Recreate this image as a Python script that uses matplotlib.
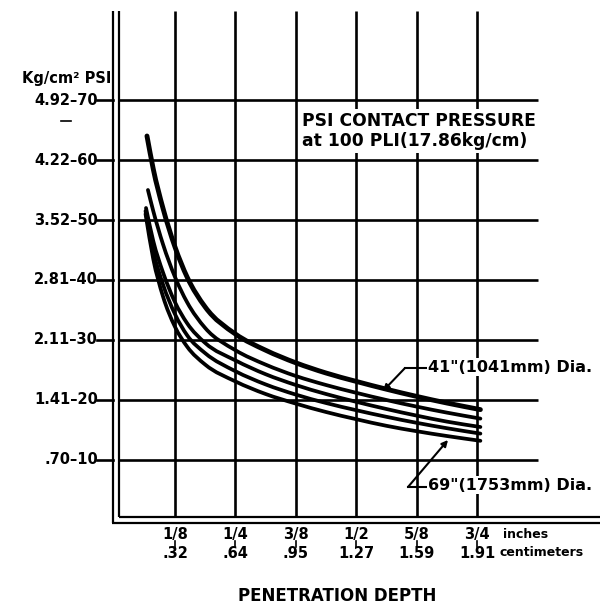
import matplotlib
matplotlib.use("Agg")
import matplotlib.pyplot as plt
from matplotlib.path import Path
from matplotlib.patches import PathPatch

plt.rcParams['font.family'] = ['DejaVu Sans']

# ---------------- data ----------------
depth_ticks_in = [0.125, 0.25, 0.375, 0.5, 0.625, 0.75]
inch_labels = ["1/8", "1/4", "3/8", "1/2", "5/8", "3/4"]
cm_labels = [".32", ".64", ".95", "1.27", "1.59", "1.91"]
psi_ticks = [10, 20, 30, 40, 50, 60, 70]
kg_labels = [".70", "1.41", "2.11", "2.81", "3.52", "4.22", "4.92"]

depth_in = [0.08, 0.1, 0.125, 0.15, 0.1875, 0.25, 0.3125, 0.375, 0.4375,
            0.5, 0.5625, 0.625, 0.6875, 0.757]
start_in = [0.067, 0.069, 0.065, 0.064, 0.064]
start_psi = [64, 55, 52, 51.5, 51]
psi_41 = [58.5, 52.0, 45.5, 40.5, 35.5, 31.0, 28.3, 26.2, 24.5, 23.1, 21.8, 20.6, 19.5, 18.4]
psi_b = [51.5, 46.0, 40.5, 36.3, 32.0, 28.3, 25.9, 24.0, 22.5, 21.2, 20.0, 18.9, 17.9, 16.9]
psi_c = [46.5, 41.3, 36.3, 32.8, 29.5, 26.6, 24.3, 22.5, 21.0, 19.7, 18.5, 17.4, 16.4, 15.5]
psi_d = [44.8, 39.3, 34.3, 30.8, 27.8, 24.8, 22.6, 20.9, 19.5, 18.3, 17.2, 16.2, 15.3, 14.4]
psi_69 = [43.5, 37.3, 32.2, 28.9, 25.9, 23.1, 21.0, 19.4, 18.0, 16.8, 15.7, 14.8, 14.0, 13.2]
curves = [psi_41, psi_b, psi_c, psi_d, psi_69]

# ---------------- layout ----------------
W, H = 604, 605
X0, PXIN = 114.6, 483.2   # pixel of 0 in, pixels per inch
Y0, PXPSI = 520.0, 6.0    # pixel row of 0 psi, pixels per psi


def dx(px):
    return (px - X0) / PXIN


def dy(py):
    return (Y0 - py) / PXPSI


def smooth_path(xs, ys):
    """Cubic Hermite (in x) bezier path through the read points."""
    n = len(xs)
    h = [xs[i + 1] - xs[i] for i in range(n - 1)]
    d = [(ys[i + 1] - ys[i]) / h[i] for i in range(n - 1)]
    s = [0.0] * n
    s[0] = d[0]
    s[-1] = d[-1]
    for i in range(1, n - 1):
        s[i] = (h[i - 1] * d[i] + h[i] * d[i - 1]) / (h[i - 1] + h[i])
    verts = [(xs[0], ys[0])]
    codes = [Path.MOVETO]
    for i in range(n - 1):
        hh = h[i] / 3.0
        verts += [(xs[i] + hh, ys[i] + hh * s[i]),
                  (xs[i + 1] - hh, ys[i + 1] - hh * s[i + 1]),
                  (xs[i + 1], ys[i + 1])]
        codes += [Path.CURVE4] * 3
    return Path(verts, codes)


fig = plt.figure(figsize=(W / 100, H / 100), dpi=100)
ax = fig.add_axes([X0 / W, (H - Y0) / H, 1 - X0 / W, Y0 / H])
ax.set_xlim(0, dx(W))
ax.set_ylim(0, dy(0))
ax.set_axis_off()

K = 'black'
top = dy(11)
grid_right = dx(538)

# vertical grid lines
for xv in depth_ticks_in:
    ax.plot([xv, xv], [dy(517), top], color=K, lw=1.9, solid_capstyle='butt')
# horizontal grid lines
for yv in psi_ticks:
    ax.plot([dx(119), grid_right], [yv, yv], color=K, lw=1.9, solid_capstyle='butt')

# double-line axes
ax.plot([dx(113), dx(113)], [dy(523), top], color=K, lw=1.6, clip_on=False, solid_capstyle='butt')
ax.plot([dx(119), dx(119)], [dy(517), top], color=K, lw=1.6, clip_on=False, solid_capstyle='butt')
ax.plot([dx(119), dx(600)], [dy(517), dy(517)], color=K, lw=1.6, clip_on=False, solid_capstyle='butt')
ax.plot([dx(112), dx(600)], [dy(522.5), dy(522.5)], color=K, lw=1.6, clip_on=False, solid_capstyle='butt')

# small stray mark of the original scan
ax.plot([dx(61), dx(71)], [dy(121), dy(121)], color=K, lw=1.2, clip_on=False)

# y tick labels
for yv, kg in zip(psi_ticks, kg_labels):
    ax.plot([dx(97), dx(113)], [yv, yv], color=K, lw=1.9, clip_on=False)
    ax.text(dx(98), yv, f"{kg}\u2013{yv}", ha='right', va='center', fontsize=10.5,
            fontweight='bold', clip_on=False)
ax.text(dx(111), dy(79), "Kg/cm\u00b2 PSI", ha='right', va='center', fontsize=10.5,
        fontweight='bold', clip_on=False)

# x tick labels
for xv, il, cl in zip(depth_ticks_in, inch_labels, cm_labels):
    ax.text(xv, dy(535), il, ha='center', va='center', fontsize=10.5, fontweight='bold', clip_on=False)
    ax.plot([xv, xv], [dy(541), dy(547)], color=K, lw=1.2, clip_on=False)
    ax.text(xv, dy(553), cl, ha='center', va='center', fontsize=10.5, fontweight='bold', clip_on=False)
ax.text(dx(503), dy(535), "inches", ha='left', va='center', fontsize=9, fontweight='bold', clip_on=False)
ax.text(dx(500), dy(553), "centimeters", ha='left', va='center', fontsize=9, fontweight='bold', clip_on=False)
ax.text(dx(337), dy(596), "PENETRATION DEPTH", ha='center', va='center', fontsize=12,
        fontweight='bold', clip_on=False)

# curves
for i, (sx, sy, ys) in enumerate(zip(start_in, start_psi, curves)):
    lw = 3.5 if i == 0 else 2.7
    p = smooth_path([sx] + depth_in, [sy] + ys)
    ax.add_patch(PathPatch(p, facecolor='none', edgecolor=K, lw=lw, capstyle='round',
                           joinstyle='round', zorder=3))

# title box
ax.text(dx(302), dy(131), "PSI CONTACT PRESSURE\nat 100 PLI(17.86kg/cm)", ha='left', va='center',
        fontsize=12.3, fontweight='bold', linespacing=1.15, zorder=5,
        bbox=dict(facecolor='white', edgecolor='none', pad=2))

# curve labels with leaders
ax.text(dx(428), dy(367), "41\"(1041mm) Dia.", ha='left', va='center', fontsize=11.5,
        fontweight='bold', zorder=5, clip_on=False,
        bbox=dict(facecolor='white', edgecolor='none', pad=1))
ax.plot([dx(427), dx(405)], [dy(368), dy(368)], color=K, lw=1.5, zorder=4)
ax.annotate("", xy=(dx(383), dy(391)), xytext=(dx(405), dy(368)),
            arrowprops=dict(arrowstyle='-|>', color=K, lw=1.5, mutation_scale=9,
                            shrinkA=0, shrinkB=0), zorder=4)

ax.text(dx(428), dy(485), "69\"(1753mm) Dia.", ha='left', va='center', fontsize=11.5,
        fontweight='bold', zorder=5, clip_on=False,
        bbox=dict(facecolor='white', edgecolor='none', pad=1))
ax.plot([dx(427), dx(408)], [dy(487), dy(487)], color=K, lw=1.5, zorder=4)
ax.annotate("", xy=(dx(448), dy(440)), xytext=(dx(408), dy(487)),
            arrowprops=dict(arrowstyle='-|>', color=K, lw=1.5, mutation_scale=9,
                            shrinkA=0, shrinkB=0), zorder=4)

fig.savefig("out.png", dpi=100, facecolor='white')
